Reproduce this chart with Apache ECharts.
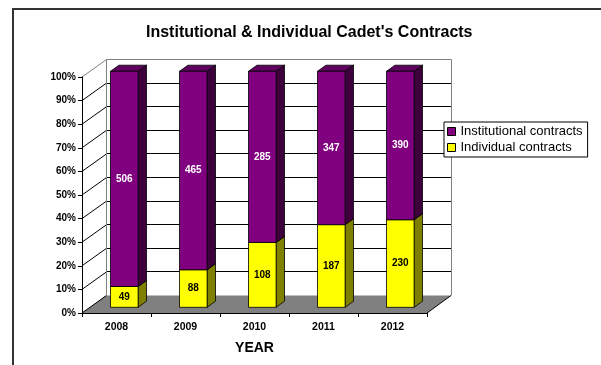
<!DOCTYPE html>
<html>
<head>
<meta charset="utf-8">
<script src="https://cdn.jsdelivr.net/npm/echarts@6/dist/echarts.min.js"></script>
<style>
  html, body { margin: 0; padding: 0; background: #fff; }
  #chart { width: 601px; height: 365px; }
</style>
</head>
<body>
<div id="chart"></div>
<script>
// Contract counts per year
const YEARS = ['2008', '2009', '2010', '2011', '2012'];
const INSTITUTIONAL = [506, 465, 285, 347, 390];
const INDIVIDUAL = [49, 88, 108, 187, 230];
const SERIES_NAMES = ['Institutional contracts', 'Individual contracts'];
const PCT_STEP = 10;

const FONT = '"Liberation Sans", Arial, Helvetica, sans-serif';

// 3D look: offset of the back wall, and where the boxes sit inside that depth
const DEPTH = [24, -17.5];
const BAR_FRONT = 0.325;
const BAR_DEPTH = 0.35;
const BAR_WIDTH = 0.4;

const COLORS = {
  institutional: { front: '#800080', side: '#3d003d', top: '#5e005e' },
  individual: { front: '#ffff00', side: '#808000', top: '#c0c000' }
};

// percent-stacked shares
function individualShare(i) {
  return INDIVIDUAL[i] / (INDIVIDUAL[i] + INSTITUTIONAL[i]) * 100;
}
const individualData = YEARS.map((y, i) => [i, 0, individualShare(i), INDIVIDUAL[i]]);
const institutionalData = YEARS.map((y, i) => [i, individualShare(i), 100, INSTITUTIONAL[i]]);

function crisp(v) { return Math.round(v - 0.5) + 0.5; }

// back wall, side wall, floor and gridlines
function renderScene(params, api) {
  const n = YEARS.length;
  const band = api.size([1, 0])[0];
  const xL = api.coord([0, 0])[0] - band / 2;
  const xR = api.coord([n - 1, 0])[0] + band / 2;
  const dx = DEPTH[0], dy = DEPTH[1];
  const y = v => api.coord([0, v])[1];
  const y0 = y(0), y100 = y(100);
  const bxL = crisp(xL + dx), bxR = crisp(xR + dx);
  const children = [];

  children.push({
    type: 'polygon',
    shape: { points: [[bxL, y0 + dy], [bxR, y0 + dy], [bxR, y100 + dy], [bxL, y100 + dy]] },
    style: { fill: '#ffffff' }
  });
  children.push({
    type: 'polygon',
    shape: { points: [[xL, y0], [xR, y0], [xR + dx, y0 + dy], [xL + dx, y0 + dy]] },
    style: { fill: '#808080' }
  });
  for (let v = PCT_STEP; v < 100; v += PCT_STEP) {
    const yb = crisp(y(v) + dy);
    children.push({
      type: 'line',
      shape: { x1: bxL, y1: yb, x2: bxR, y2: yb },
      style: { stroke: '#000', lineWidth: 1 }
    });
    children.push({
      type: 'line',
      shape: { x1: xL, y1: y(v), x2: bxL, y2: y(v) + dy },
      style: { stroke: '#000', lineWidth: 1 }
    });
  }
  // floor side edges
  children.push({
    type: 'line',
    shape: { x1: xL, y1: y0, x2: bxL, y2: y0 + dy },
    style: { stroke: '#000', lineWidth: 1 }
  });
  children.push({
    type: 'line',
    shape: { x1: xR, y1: y0, x2: xR + dx, y2: y0 + dy },
    style: { stroke: '#000', lineWidth: 1 }
  });
  // wall outline
  const yTop = crisp(y100 + dy);
  children.push({
    type: 'polyline',
    shape: { points: [[bxL, y0 + dy], [bxL, yTop], [bxR, yTop], [bxR, y0 + dy]] },
    style: { stroke: '#808080', lineWidth: 1, fill: null }
  });
  children.push({
    type: 'line',
    shape: { x1: xL, y1: y100, x2: bxL, y2: yTop },
    style: { stroke: '#808080', lineWidth: 1 }
  });
  return { type: 'group', children: children };
}

function boxRenderer(c, labelColor) {
  return function (params, api) {
    const i = api.value(0);
    const lo = api.coord([i, api.value(1)]);
    const hi = api.coord([i, api.value(2)]);
    const band = api.size([1, 0])[0];
    const w = band * BAR_WIDTH;
    const ox = DEPTH[0] * BAR_FRONT, oy = DEPTH[1] * BAR_FRONT;
    const dx = DEPTH[0] * BAR_DEPTH, dy = DEPTH[1] * BAR_DEPTH;
    const xl = lo[0] + ox - w / 2, xr = lo[0] + ox + w / 2;
    const yb = lo[1] + oy, yt = hi[1] + oy;
    const edge = { stroke: '#000', lineWidth: 0.8 };
    return {
      type: 'group',
      children: [
        { type: 'polygon', shape: { points: [[xr, yb], [xr + dx, yb + dy], [xr + dx, yt + dy], [xr, yt]] },
          style: Object.assign({ fill: c.side }, edge) },
        { type: 'polygon', shape: { points: [[xl, yt], [xr, yt], [xr + dx, yt + dy], [xl + dx, yt + dy]] },
          style: Object.assign({ fill: c.top }, edge) },
        { type: 'rect', shape: { x: xl, y: yt, width: w, height: yb - yt },
          style: Object.assign({ fill: c.front }, edge) },
        { type: 'text', x: (xl + xr) / 2, y: (yb + yt) / 2,
          style: { text: String(api.value(3)), fill: labelColor,
                   font: 'bold 10px ' + FONT,
                   align: 'center', verticalAlign: 'middle',
                   textAlign: 'center', textVerticalAlign: 'middle' } }
      ]
    };
  };
}

const chart = echarts.init(document.getElementById('chart'), null, { renderer: 'canvas' });

chart.setOption({
  animation: false,
  backgroundColor: '#ffffff',
  title: {
    text: "Institutional & Individual Cadet's Contracts",
    left: 146,
    top: 25,
    padding: 0,
    textStyle: { fontFamily: FONT, fontSize: 16, fontWeight: 'bold', color: '#000' }
  },
  legend: {
    orient: 'vertical',
    left: 444,
    top: 122,
    data: SERIES_NAMES,
    icon: 'rect',
    itemWidth: 8,
    itemHeight: 8,
    itemGap: 3,
    padding: [3, 5, 3, 3],
    borderColor: '#000',
    borderWidth: 1,
    backgroundColor: '#fff',
    itemStyle: { borderColor: '#000', borderWidth: 1 },
    textStyle: { fontFamily: FONT, fontSize: 13, color: '#000' }
  },
  grid: { left: 82, top: 77, width: 345, height: 236, containLabel: false },
  xAxis: {
    type: 'category',
    data: YEARS,
    z: 5,
    name: 'YEAR',
    nameLocation: 'middle',
    nameGap: 28,
    nameTextStyle: { fontFamily: FONT, fontSize: 14, fontWeight: 'bold', color: '#000' },
    axisLine: { lineStyle: { color: '#000', width: 1 } },
    axisTick: { show: true, length: 4, lineStyle: { color: '#000' } },
    axisLabel: { margin: 9, fontFamily: FONT, fontSize: 10.5, fontWeight: 'bold', color: '#000' },
    splitLine: { show: false }
  },
  yAxis: {
    type: 'value',
    min: 0,
    max: 100,
    interval: PCT_STEP,
    z: 5,
    axisLine: { show: true, lineStyle: { color: '#000', width: 1 } },
    axisTick: { show: true, length: 4, lineStyle: { color: '#000' } },
    axisLabel: { margin: 6, formatter: '{value}%', fontFamily: FONT, fontSize: 10, fontWeight: 'bold', color: '#000' },
    splitLine: { show: false }
  },
  graphic: [{
    type: 'polyline',
    shape: { points: [[13, 366], [13, 9], [602, 9]] },
    style: { stroke: '#333', lineWidth: 2, fill: null },
    silent: true
  }],
  series: [
    {
      type: 'custom',
      name: 'scene',
      z: 1,
      silent: true,
      renderItem: renderScene,
      data: [[0, 0]]
    },
    {
      type: 'custom',
      name: SERIES_NAMES[1],
      z: 3,
      itemStyle: { color: COLORS.individual.front },
      renderItem: boxRenderer(COLORS.individual, '#000'),
      encode: { x: 0, y: [1, 2] },
      data: individualData
    },
    {
      type: 'custom',
      name: SERIES_NAMES[0],
      z: 3,
      itemStyle: { color: COLORS.institutional.front },
      renderItem: boxRenderer(COLORS.institutional, '#fff'),
      encode: { x: 0, y: [1, 2] },
      data: institutionalData
    }
  ]
});
</script>
</body>
</html>
